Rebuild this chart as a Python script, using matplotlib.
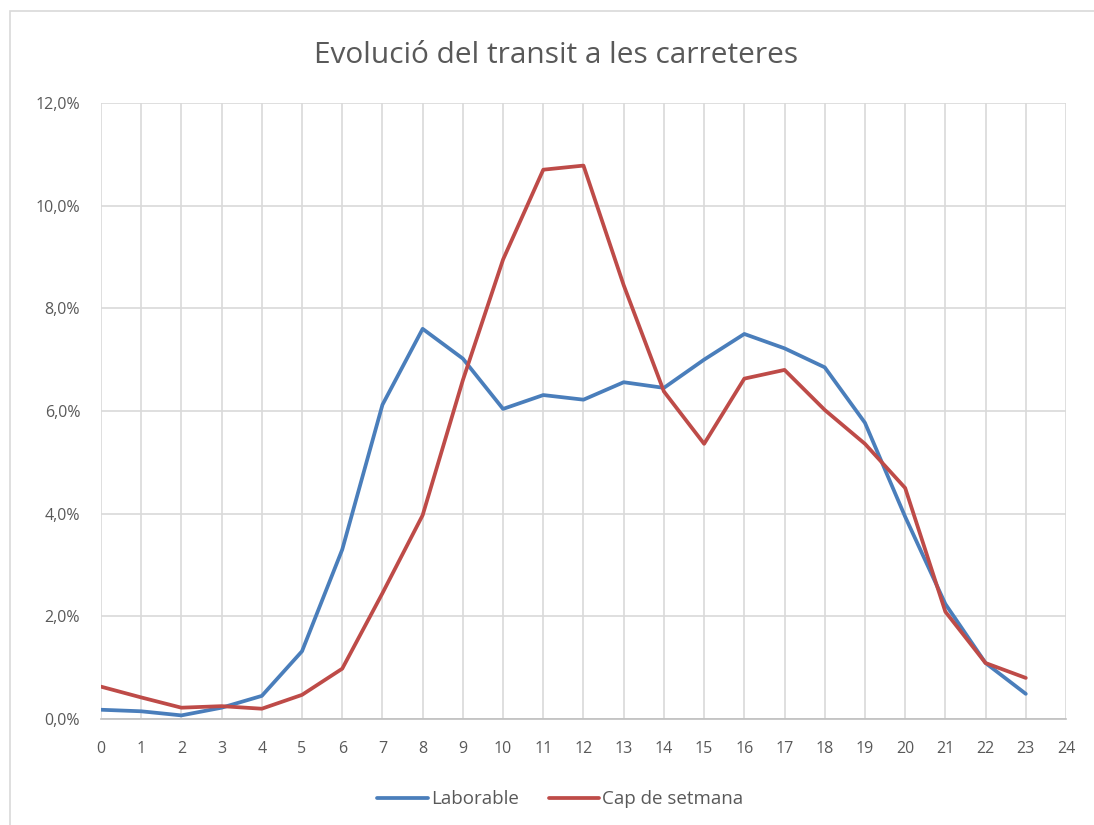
import matplotlib
matplotlib.use("Agg")
import matplotlib.pyplot as plt
from matplotlib.patches import Rectangle
from matplotlib.ticker import FuncFormatter

plt.rcParams['font.family'] = ['Open Sans', 'DejaVu Sans']

hours = list(range(24))
laborable = [0.18, 0.15, 0.07, 0.22, 0.45, 1.32, 3.30, 6.12, 7.60, 7.02, 6.04, 6.31,
             6.22, 6.56, 6.45, 7.00, 7.50, 7.22, 6.85, 5.77, 3.94, 2.24, 1.09, 0.49]
cap_setmana = [0.63, 0.42, 0.22, 0.25, 0.20, 0.47, 0.98, 2.45, 3.97, 6.60, 8.95, 10.70,
               10.78, 8.45, 6.38, 5.36, 6.63, 6.80, 6.02, 5.36, 4.50, 2.09, 1.09, 0.80]

text_color = '#595959'

fig = plt.figure(figsize=(10.94, 8.25), dpi=100)
ax = fig.add_axes([0.0923, 0.1285, 0.8821, 0.7467])

ax.plot(hours, laborable, color='#4A7EBB', lw=2.7, label='Laborable', solid_capstyle='round')
ax.plot(hours, cap_setmana, color='#BE4B48', lw=2.7, label='Cap de setmana', solid_capstyle='round')

ax.set_xlim(0, 24)
ax.set_ylim(0, 12)
ax.set_xticks(range(25))
ax.set_yticks([0, 2, 4, 6, 8, 10, 12])
ax.yaxis.set_major_formatter(FuncFormatter(lambda v, p: f"{v:.1f}%".replace('.', ',')))
ax.grid(True, color='#D9D9D9', lw=1.2)
ax.set_axisbelow(True)
for s in ['top', 'right', 'left']:
    ax.spines[s].set_visible(False)
ax.spines['bottom'].set_color('#BFBFBF')
ax.spines['bottom'].set_linewidth(1.2)
ax.tick_params(axis='both', length=0, colors=text_color, labelsize=11.5)
ax.tick_params(axis='x', pad=16)
ax.tick_params(axis='y', pad=15)

fig.text(0.508, 0.933, 'Evolució del transit a les carreteres', ha='center', va='center',
         fontsize=21.5, color=text_color)

ax.legend(loc='center', bbox_to_anchor=(0.476, -0.13), ncol=2, frameon=False,
          fontsize=13.5, labelcolor=text_color, handlelength=2.7, handletextpad=0.15,
          columnspacing=1.6)

fig.patches.append(Rectangle((0.009, -0.1), 1.2, 1.087, transform=fig.transFigure,
                             fill=False, edgecolor='#D9D9D9', lw=1.2))

fig.savefig('out.png', dpi=100)
